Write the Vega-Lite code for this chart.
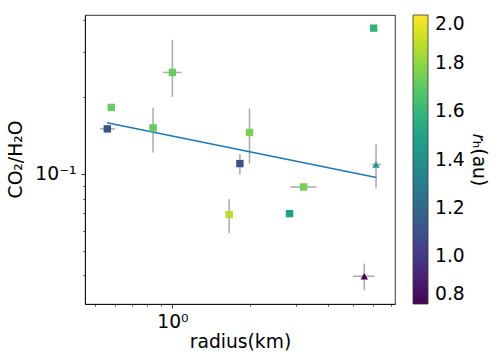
{
  "$schema": "https://vega.github.io/schema/vega-lite/v6.json",
  "width": 310,
  "height": 289,
  "autosize": {"type": "none"},
  "padding": {"left": 85, "top": 15, "right": 103, "bottom": 58},
  "background": "white",
  "datasets": {
    "pts": [
      {"x": 0.560, "y": 0.1502, "xlo": 0.525, "xhi": 0.600, "ylo": null, "yhi": null, "rh": 1.10, "marker": "square"},
      {"x": 0.580, "y": 0.1823, "xlo": null, "xhi": null, "ylo": null, "yhi": null, "rh": 1.72, "marker": "square"},
      {"x": 0.842, "y": 0.1515, "xlo": 0.812, "xhi": 0.872, "ylo": 0.1213, "yhi": 0.1816, "rh": 1.72, "marker": "square"},
      {"x": 1.000, "y": 0.2500, "xlo": 0.920, "xhi": 1.087, "ylo": 0.2006, "yhi": 0.3357, "rh": 1.72, "marker": "square"},
      {"x": 1.825, "y": 0.1098, "xlo": null, "xhi": null, "ylo": 0.0996, "yhi": 0.1198, "rh": 1.10, "marker": "square"},
      {"x": 1.988, "y": 0.1454, "xlo": null, "xhi": null, "ylo": 0.1098, "yhi": 0.1806, "rh": 1.75, "marker": "square"},
      {"x": 6.010, "y": 0.3730, "xlo": null, "xhi": null, "ylo": null, "yhi": null, "rh": 1.58, "marker": "square"},
      {"x": 6.140, "y": 0.1089, "xlo": 5.93, "xhi": 6.42, "ylo": 0.0877, "yhi": 0.1308, "rh": 1.46, "marker": "triangle"},
      {"x": 3.220, "y": 0.0889, "xlo": 2.86, "xhi": 3.61, "ylo": null, "yhi": null, "rh": 1.75, "marker": "square"},
      {"x": 1.659, "y": 0.0693, "xlo": null, "xhi": null, "ylo": 0.0585, "yhi": 0.0796, "rh": 1.87, "marker": "square"},
      {"x": 2.840, "y": 0.0699, "xlo": null, "xhi": null, "ylo": null, "yhi": null, "rh": 1.48, "marker": "square"},
      {"x": 5.530, "y": 0.0397, "xlo": 5.00, "xhi": 6.06, "ylo": 0.0350, "yhi": 0.0445, "rh": 0.80, "marker": "triangle"}
    ],
    "fit": [
      {"x": 0.558, "y": 0.1586},
      {"x": 6.16, "y": 0.0968}
    ]
  },
  "layer": [
    {
      "data": {"name": "pts"},
      "mark": {"type": "rule", "color": "#aaaaaa", "strokeWidth": 1.5},
      "encoding": {
        "x": {
          "field": "xlo", "type": "quantitative",
          "scale": {"type": "log", "domain": [0.459, 7.27], "nice": false, "zero": false},
          "axis": {
            "title": "radius(km)",
            "values": [0.5, 0.6, 0.7, 0.8, 0.9, 1, 2, 3, 4, 5, 6, 7],
            "labelExpr": "datum.value == 1 ? '10⁰' : ''",
            "tickSize": {"condition": {"test": "datum.value == 1", "value": 4}, "value": 2.3},
            "tickWidth": {"condition": {"test": "datum.value == 1", "value": 0.8}, "value": 0.6},
            "labelPadding": 4,
            "titleX": 155,
            "titleY": 43,
            "titleBaseline": "alphabetic"
          }
        },
        "x2": {"field": "xhi"},
        "y": {
          "field": "y", "type": "quantitative",
          "scale": {"type": "log", "domain": [0.0309, 0.42], "nice": false, "zero": false},
          "axis": {
            "title": "CO₂/H₂O",
            "values": [0.04, 0.05, 0.06, 0.07, 0.08, 0.09, 0.1, 0.2, 0.3, 0.4],
            "labelExpr": "datum.value == 0.1 ? '10⁻¹' : ''",
            "tickSize": {"condition": {"test": "datum.value == 0.1", "value": 4}, "value": 2.3},
            "tickWidth": {"condition": {"test": "datum.value == 0.1", "value": 0.8}, "value": 0.6},
            "labelPadding": 5,
            "titleX": -64,
            "titleY": 144,
            "titleAngle": 270,
            "titleBaseline": "alphabetic"
          }
        }
      }
    },
    {
      "data": {"name": "pts"},
      "mark": {"type": "rule", "color": "#aaaaaa", "strokeWidth": 1.5},
      "encoding": {
        "x": {"field": "x", "type": "quantitative", "scale": {"type": "log", "domain": [0.459, 7.27], "nice": false, "zero": false}},
        "y": {"field": "ylo", "type": "quantitative", "scale": {"type": "log", "domain": [0.0309, 0.42], "nice": false, "zero": false}},
        "y2": {"field": "yhi"}
      }
    },
    {
      "data": {"name": "fit"},
      "mark": {"type": "line", "color": "#1f77b4", "strokeWidth": 1.5},
      "encoding": {
        "x": {"field": "x", "type": "quantitative", "scale": {"type": "log", "domain": [0.459, 7.27], "nice": false, "zero": false}},
        "y": {"field": "y", "type": "quantitative", "scale": {"type": "log", "domain": [0.0309, 0.42], "nice": false, "zero": false}}
      }
    },
    {
      "data": {"name": "pts"},
      "mark": {"type": "point", "filled": true, "opacity": 1, "size": 55},
      "encoding": {
        "x": {"field": "x", "type": "quantitative", "scale": {"type": "log", "domain": [0.459, 7.27], "nice": false, "zero": false}},
        "y": {"field": "y", "type": "quantitative", "scale": {"type": "log", "domain": [0.0309, 0.42], "nice": false, "zero": false}},
        "shape": {"field": "marker", "type": "nominal", "scale": {"domain": ["square", "triangle"], "range": ["square", "triangle-up"]}, "legend": null},
        "color": {
          "field": "rh", "type": "quantitative",
          "scale": {"scheme": "viridis", "domain": [0.8, 2.0]},
          "legend": {
            "title": "𝑟ₕ(au)",
            "values": [0.8, 1.0, 1.2, 1.4, 1.6, 1.8, 2.0],
            "format": ".1f",
            "direction": "vertical",
            "orient": "right",
            "offset": 18,
            "padding": 0,
            "gradientLength": 289,
            "gradientThickness": 15,
            "gradientStrokeColor": "#333333",
            "gradientStrokeWidth": 0.8,
            "labelFontSize": 18.7,
            "labelColor": "black",
            "labelOffset": 7,
            "titleOrient": "right",
            "titleAngle": 270,
            "titleAnchor": "middle",
            "titleFontSize": 18.7,
            "titleFontWeight": "normal",
            "titleColor": "black",
            "titlePadding": 4,
            "encode": {
              "labels": {"update": {"dy": {"signal": "datum.value < 0.85 ? 8 : 0"}}}
            }
          }
        }
      }
    }
  ],
  "config": {
    "font": "DejaVu Sans",
    "view": {"stroke": "black", "strokeWidth": 0.8},
    "axis": {"grid": false, "domainColor": "black", "domainWidth": 0.8, "tickColor": "black", "labelColor": "black", "titleColor": "black", "labelFontSize": 18.7, "titleFontSize": 18.7, "titleFontWeight": "normal", "labelOverlap": false, "labelFlush": false}
  }
}
